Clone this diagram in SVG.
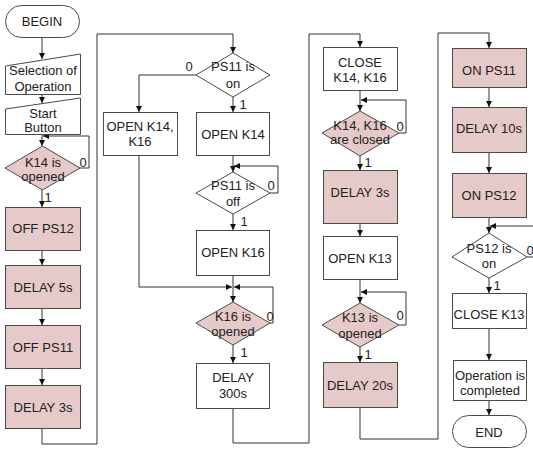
<svg xmlns="http://www.w3.org/2000/svg" width="533" height="449" viewBox="0 0 533 449">
  <defs>
    <marker id="arrow" markerUnits="userSpaceOnUse" markerWidth="6" markerHeight="6" refX="6" refY="3" orient="auto">
      <path d="M0,0 L6,3 L0,6 z" fill="#111"/>
    </marker>
    <style>
      .box { fill: #ffffff; stroke: #4a4a4a; stroke-width: 1; }
      .hot { fill: #e6c9c9; stroke: #4a4a4a; stroke-width: 1; }
      .t { font-family: "Liberation Sans", Arial, sans-serif; font-size: 13px; fill: #222; text-anchor: middle; }
      .lbl { font-family: "Liberation Sans", Arial, sans-serif; font-size: 13px; fill: #222; text-anchor: middle; }
      .wire { fill: none; stroke: #333; stroke-width: 1; }
      .arr { fill: none; stroke: #333; stroke-width: 1; marker-end: url(#arrow); }
    </style>
  </defs>

  <rect width="533" height="449" fill="#ffffff"/>

  <!-- connectors -->
  <g id="connectors">
    <!-- column 1 -->
    <path class="arr" d="M42,37 V59"/>
    <path class="arr" d="M42,94 V103"/>
    <path class="arr" d="M42,134 V146"/>
    <path class="arr" d="M80,168 H89 V136 H43"/>
    <path class="arr" d="M42,190 V207"/>
    <path class="arr" d="M42,250 V265"/>
    <path class="arr" d="M42,309 V325"/>
    <path class="arr" d="M42,369 V385"/>
    <path class="arr" d="M42,428 V444 H97 V34 H233 V53"/>
    <!-- column 2 -->
    <path class="arr" d="M196,75 H139 V112"/>
    <path class="arr" d="M233,97 V112"/>
    <path class="arr" d="M233,155 V172"/>
    <path class="arr" d="M270,193 H278 V166 H234"/>
    <path class="arr" d="M233,214 V230"/>
    <path class="arr" d="M139,155 V287 H232"/>
    <path class="arr" d="M233,275 V302"/>
    <path class="arr" d="M270,323 H273 V287 H234"/>
    <path class="arr" d="M233,345 V363"/>
    <path class="arr" d="M233,408 V443 H309 V34 H360 V47"/>
    <!-- column 3 -->
    <path class="arr" d="M360,90 V111"/>
    <path class="arr" d="M399,133 H406 V100 H361"/>
    <path class="arr" d="M360,156 V170"/>
    <path class="arr" d="M360,223 V236"/>
    <path class="arr" d="M360,279 V303"/>
    <path class="arr" d="M399,325 H406 V292 H361"/>
    <path class="arr" d="M360,347 V362"/>
    <path class="arr" d="M360,407 V439 H438 V33 H489 V48"/>
    <!-- column 4 -->
    <path class="arr" d="M489,87 V107"/>
    <path class="arr" d="M489,152 V173"/>
    <path class="arr" d="M489,217 V233"/>
    <path class="arr" d="M527,257 H536 V226 H490"/>
    <path class="arr" d="M489,278 V293"/>
    <path class="arr" d="M489,328 V360"/>
    <path class="arr" d="M489,400 V415"/>
  </g>

  <!-- branch labels -->
  <g id="branch-labels">
    <text class="lbl" x="83" y="167">0</text>
    <text class="lbl" x="48" y="202">1</text>
    <text class="lbl" x="189" y="71">0</text>
    <text class="lbl" x="243" y="109">1</text>
    <text class="lbl" x="271" y="190">0</text>
    <text class="lbl" x="244" y="226">1</text>
    <text class="lbl" x="270" y="321">0</text>
    <text class="lbl" x="244" y="357">1</text>
    <text class="lbl" x="400" y="131">0</text>
    <text class="lbl" x="368" y="167">1</text>
    <text class="lbl" x="400" y="320">0</text>
    <text class="lbl" x="368" y="359">1</text>
    <text class="lbl" x="530" y="255">0</text>
    <text class="lbl" x="497" y="290">1</text>
  </g>

  <!-- column 1 -->
  <g id="begin">
    <rect class="box" x="5.5" y="5.5" width="74" height="32" rx="16" ry="16"/>
    <text class="t" x="42" y="26">BEGIN</text>
  </g>
  <g id="selection">
    <path class="box" d="M5.5,66 L80.5,54 V94.5 H5.5 Z"/>
    <text class="t" x="43" y="75">Selection of</text>
    <text class="t" x="43" y="91">Operation</text>
  </g>
  <g id="start-button">
    <path class="box" d="M5.5,109 L80.5,98 V134.5 H5.5 Z"/>
    <text class="t" x="43" y="118">Start</text>
    <text class="t" x="43" y="132">Button</text>
  </g>
  <g id="k14-opened">
    <path class="hot" d="M42.5,146 L80,168 L42.5,190 L5,168 Z"/>
    <text class="t" x="43" y="167">K14 is</text>
    <text class="t" x="43" y="181">opened</text>
  </g>
  <g id="off-ps12">
    <rect class="hot" x="5.5" y="207.5" width="75" height="43"/>
    <text class="t" x="43" y="233">OFF PS12</text>
  </g>
  <g id="delay-5s">
    <rect class="hot" x="5.5" y="265.5" width="75" height="43"/>
    <text class="t" x="43" y="292">DELAY 5s</text>
  </g>
  <g id="off-ps11">
    <rect class="hot" x="5.5" y="325.5" width="75" height="43"/>
    <text class="t" x="43" y="352">OFF PS11</text>
  </g>
  <g id="delay-3s-a">
    <rect class="hot" x="5.5" y="385.5" width="75" height="43"/>
    <text class="t" x="43" y="412">DELAY 3s</text>
  </g>

  <!-- column 2 -->
  <g id="ps11-on">
    <path class="box" d="M233,53 L270,75 L233,97 L196,75 Z"/>
    <text class="t" x="233" y="71">PS11 is</text>
    <text class="t" x="233" y="88">on</text>
  </g>
  <g id="open-k14-k16">
    <rect class="box" x="103.5" y="112.5" width="74" height="43"/>
    <text class="t" x="140" y="131">OPEN K14,</text>
    <text class="t" x="140" y="146">K16</text>
  </g>
  <g id="open-k14">
    <rect class="box" x="196.5" y="112.5" width="73" height="43"/>
    <text class="t" x="233" y="139">OPEN K14</text>
  </g>
  <g id="ps11-off">
    <path class="box" d="M233,172 L270,193 L233,214 L196,193 Z"/>
    <text class="t" x="233" y="190">PS11 is</text>
    <text class="t" x="233" y="206">off</text>
  </g>
  <g id="open-k16">
    <rect class="box" x="196.5" y="230.5" width="73" height="45"/>
    <text class="t" x="233" y="257">OPEN K16</text>
  </g>
  <g id="k16-opened">
    <path class="hot" d="M233,302 L270,323 L233,345 L196,323 Z"/>
    <text class="t" x="233" y="321">K16 is</text>
    <text class="t" x="233" y="336">opened</text>
  </g>
  <g id="delay-300s">
    <rect class="box" x="196.5" y="363.5" width="73" height="45"/>
    <text class="t" x="233" y="382">DELAY</text>
    <text class="t" x="233" y="398">300s</text>
  </g>

  <!-- column 3 -->
  <g id="close-k14-k16">
    <rect class="box" x="323.5" y="47.5" width="74" height="43"/>
    <text class="t" x="360" y="67">CLOSE</text>
    <text class="t" x="360" y="82">K14, K16</text>
  </g>
  <g id="k14-k16-closed">
    <path class="hot" d="M360,111 L399,133 L360,156 L322,133 Z"/>
    <text class="t" x="360" y="130">K14, K16</text>
    <text class="t" x="360" y="144">are closed</text>
  </g>
  <g id="delay-3s-b">
    <rect class="hot" x="323.5" y="170.5" width="74" height="53"/>
    <text class="t" x="360" y="197">DELAY 3s</text>
  </g>
  <g id="open-k13">
    <rect class="box" x="323.5" y="236.5" width="74" height="43"/>
    <text class="t" x="360" y="263">OPEN K13</text>
  </g>
  <g id="k13-opened">
    <path class="hot" d="M360,303 L399,325 L360,347 L322,325 Z"/>
    <text class="t" x="360" y="322">K13 is</text>
    <text class="t" x="360" y="338">opened</text>
  </g>
  <g id="delay-20s">
    <rect class="hot" x="323.5" y="362.5" width="74" height="45"/>
    <text class="t" x="360" y="390">DELAY 20s</text>
  </g>

  <!-- column 4 -->
  <g id="on-ps11">
    <rect class="hot" x="452.5" y="48.5" width="74" height="39"/>
    <text class="t" x="489" y="75">ON PS11</text>
  </g>
  <g id="delay-10s">
    <rect class="hot" x="452.5" y="107.5" width="74" height="45"/>
    <text class="t" x="489" y="133">DELAY 10s</text>
  </g>
  <g id="on-ps12">
    <rect class="hot" x="452.5" y="173.5" width="74" height="44"/>
    <text class="t" x="489" y="200">ON PS12</text>
  </g>
  <g id="ps12-on">
    <path class="box" d="M489,233 L527,257 L489,278 L452,257 Z"/>
    <text class="t" x="489" y="253">PS12 is</text>
    <text class="t" x="489" y="268">on</text>
  </g>
  <g id="close-k13">
    <rect class="box" x="452.5" y="293.5" width="74" height="35"/>
    <text class="t" x="489" y="319">CLOSE K13</text>
  </g>
  <g id="operation-completed">
    <rect class="box" x="453.5" y="360.5" width="73" height="40"/>
    <text class="t" x="490" y="380">Operation is</text>
    <text class="t" x="490" y="395">completed</text>
  </g>
  <g id="end">
    <rect class="box" x="452.5" y="415.5" width="74" height="32" rx="16" ry="16"/>
    <text class="t" x="489" y="437">END</text>
  </g>
</svg>
